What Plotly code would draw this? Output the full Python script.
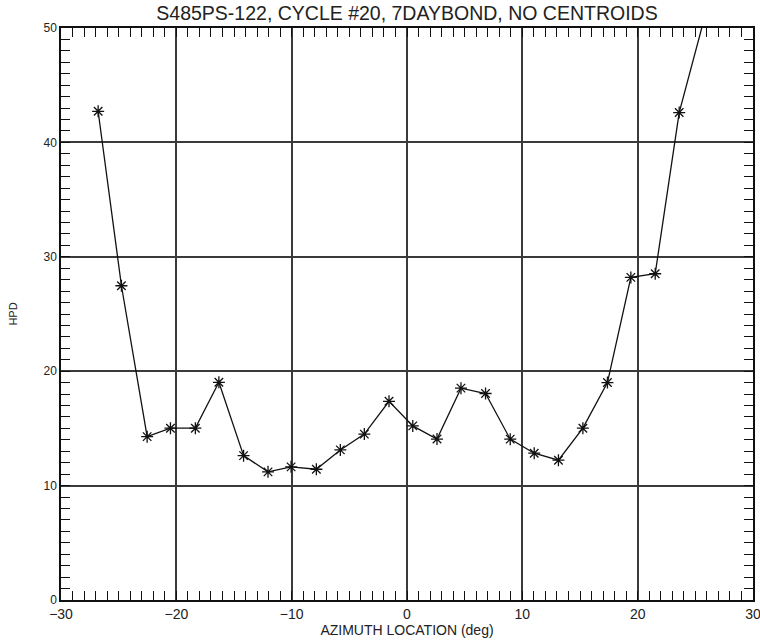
import plotly.graph_objects as go

# Data
azimuth = [-26.78, -24.76, -22.53, -20.51, -18.35, -16.31, -14.17, -12.05, -10.05, -7.86,
           -5.78, -3.70, -1.56, 0.50, 2.60, 4.68, 6.81, 8.95, 11.03, 13.13,
           15.25, 17.38, 19.41, 21.52, 23.60, 25.90]
hpd = [42.72, 27.47, 14.28, 15.02, 15.02, 19.03, 12.62, 11.20, 11.64, 11.43,
       13.12, 14.50, 17.37, 15.22, 14.07, 18.52, 18.05, 14.06, 12.83, 12.22,
       15.02, 19.01, 28.20, 28.52, 42.61, 51.30]

title_text = "S485PS-122, CYCLE #20, 7DAYBOND, NO CENTROIDS"
x_title = "AZIMUTH LOCATION (deg)"
y_title = "HPD"

FONT = "Liberation Sans, Arial, sans-serif"
W, H = 760, 640

fig = go.Figure()
fig.add_trace(go.Scatter(
    x=azimuth, y=hpd, mode="lines+markers",
    line=dict(color="#111111", width=1.3),
    marker=dict(symbol="asterisk-open", size=10, color="#111111",
                line=dict(color="#111111", width=1.3)),
    showlegend=False,
))

axis_common = dict(
    showgrid=True, gridcolor="#3a3a3a", gridwidth=1.5,
    showline=True, linecolor="#111111", linewidth=1.5, mirror="ticks",
    ticks="inside", ticklen=9, tickcolor="#111111", tickwidth=1.2,
    zeroline=False, automargin=False, ticklabeloverflow="allow",
)

fig.update_layout(
    width=W, height=H,
    margin=dict(l=61, r=7, t=28, b=40),
    paper_bgcolor="white", plot_bgcolor="white",
    font=dict(family=FONT, color="#222222"),
    title=dict(text=title_text, x=0.5, xref="paper", y=1 - 13 / H, yref="container",
               xanchor="center", yanchor="middle",
               font=dict(family=FONT, size=19.5, color="#222222")),
    xaxis=dict(range=[-30, 30], tick0=0, dtick=10,
               minor=dict(dtick=1, ticks="inside", ticklen=9, tickcolor="#111111",
                          tickwidth=1.2, showgrid=False),
               tickfont=dict(size=14),
               title=dict(text=x_title, font=dict(size=14), standoff=3),
               **axis_common),
    yaxis=dict(range=[0, 50], tick0=0, dtick=10,
               minor=dict(dtick=1, ticks="inside", ticklen=9, tickcolor="#111111",
                          tickwidth=1.2, showgrid=False),
               tickfont=dict(size=12),
               title=dict(text=y_title, font=dict(size=11), standoff=24),
               **axis_common),
)

# remove the default 8px page margin so the figure fills the window exactly
fig.write_html("out.html", config={"displayModeBar": False},
               post_script="document.body.style.margin='0px';")
